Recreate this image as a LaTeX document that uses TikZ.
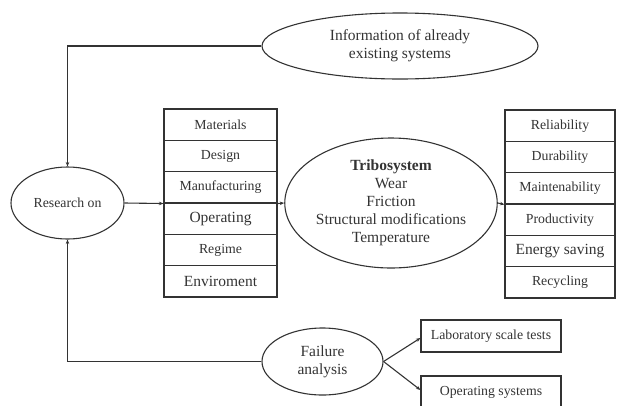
\documentclass[tikz,border=0pt]{standalone}
\usepackage{fontspec}
\setmainfont{Liberation Serif}
\usetikzlibrary{arrows.meta,shapes.geometric}
\definecolor{ink}{gray}{0.2}
\tikzset{
  base/.style={draw=ink, line width=1.1pt, text=ink, inner sep=0pt, align=center},
  ell/.style={base, ellipse},
  cell/.style={base, rectangle, minimum height=31.33pt},
  small/.style={font=\fontsize{13.8}{18}\selectfont},
  big/.style={font=\fontsize{15.5}{18}\selectfont},
  arr/.style={draw=ink, line width=1.1pt, -{Stealth[length=4.5pt,width=3.5pt]}},
  ln/.style={draw=ink, line width=1.1pt}
}
\begin{document}
\begin{tikzpicture}[x=1pt,y=-1pt]
\useasboundingbox (0,0) rectangle (617,405);
% ellipses
\node[ell, big, minimum width=276pt, minimum height=66pt] (info) at (400,46) {Information of already\\existing systems};
\node[ell, small, minimum width=113pt, minimum height=72pt] (research) at (67.5,203) {Research on};
\node[ell, big, minimum width=199pt, minimum height=130pt] (tribo) at (391,203) {\textbf{Tribosystem}\\Wear\\Friction\\Structural modifications\\Temperature};
\node[ell, big, minimum width=121pt, minimum height=67pt] (fail) at (322.5,361.5) {Failure\\analysis};
% left column
\node[cell, small, minimum width=113pt] (m1) at (220.5,124.7) {Materials};
\node[cell, small, minimum width=113pt] (m2) at (220.5,156.0) {Design};
\node[cell, small, minimum width=113pt] (m3) at (220.5,187.3) {Manufacturing};
\node[cell, big, minimum width=113pt] (m4) at (220.5,218.7) {Operating};
\node[cell, small, minimum width=113pt] (m5) at (220.5,250.0) {Regime};
\node[cell, big, minimum width=113pt] (m6) at (220.5,281.3) {Enviroment};
% right column
\node[cell, small, minimum width=110pt] (r1) at (560,125.7) {Reliability};
\node[cell, small, minimum width=110pt] (r2) at (560,157.0) {Durability};
\node[cell, small, minimum width=110pt] (r3) at (560,188.3) {Maintenability};
\node[cell, small, minimum width=110pt] (r4) at (560,219.7) {Productivity};
\node[cell, big, minimum width=110pt] (r5) at (560,251.0) {Energy saving};
\node[cell, small, minimum width=110pt] (r6) at (560,282.3) {Recycling};
% bottom boxes
\node[cell, small, minimum width=140pt, minimum height=32pt] (lab) at (491,336) {Laboratory scale tests};
\node[cell, small, minimum width=140pt, minimum height=32pt] (ops) at (491,392) {Operating systems};
% connectors
\draw[arr] (info.west) -| (research.north);
\draw[arr] (fail.west) -| (research.south);
\draw[arr] (research.east) -- (m3.south west);
\draw[arr] (m3.south east) -- (tribo.west);
\draw[arr] (tribo.east) -- (r3.south west);
\draw[arr] (fail.east) -- ([yshift=-2pt]lab.west);
\draw[arr] (fail.east) -- ([yshift=2pt]ops.west);
\end{tikzpicture}
\end{document}
